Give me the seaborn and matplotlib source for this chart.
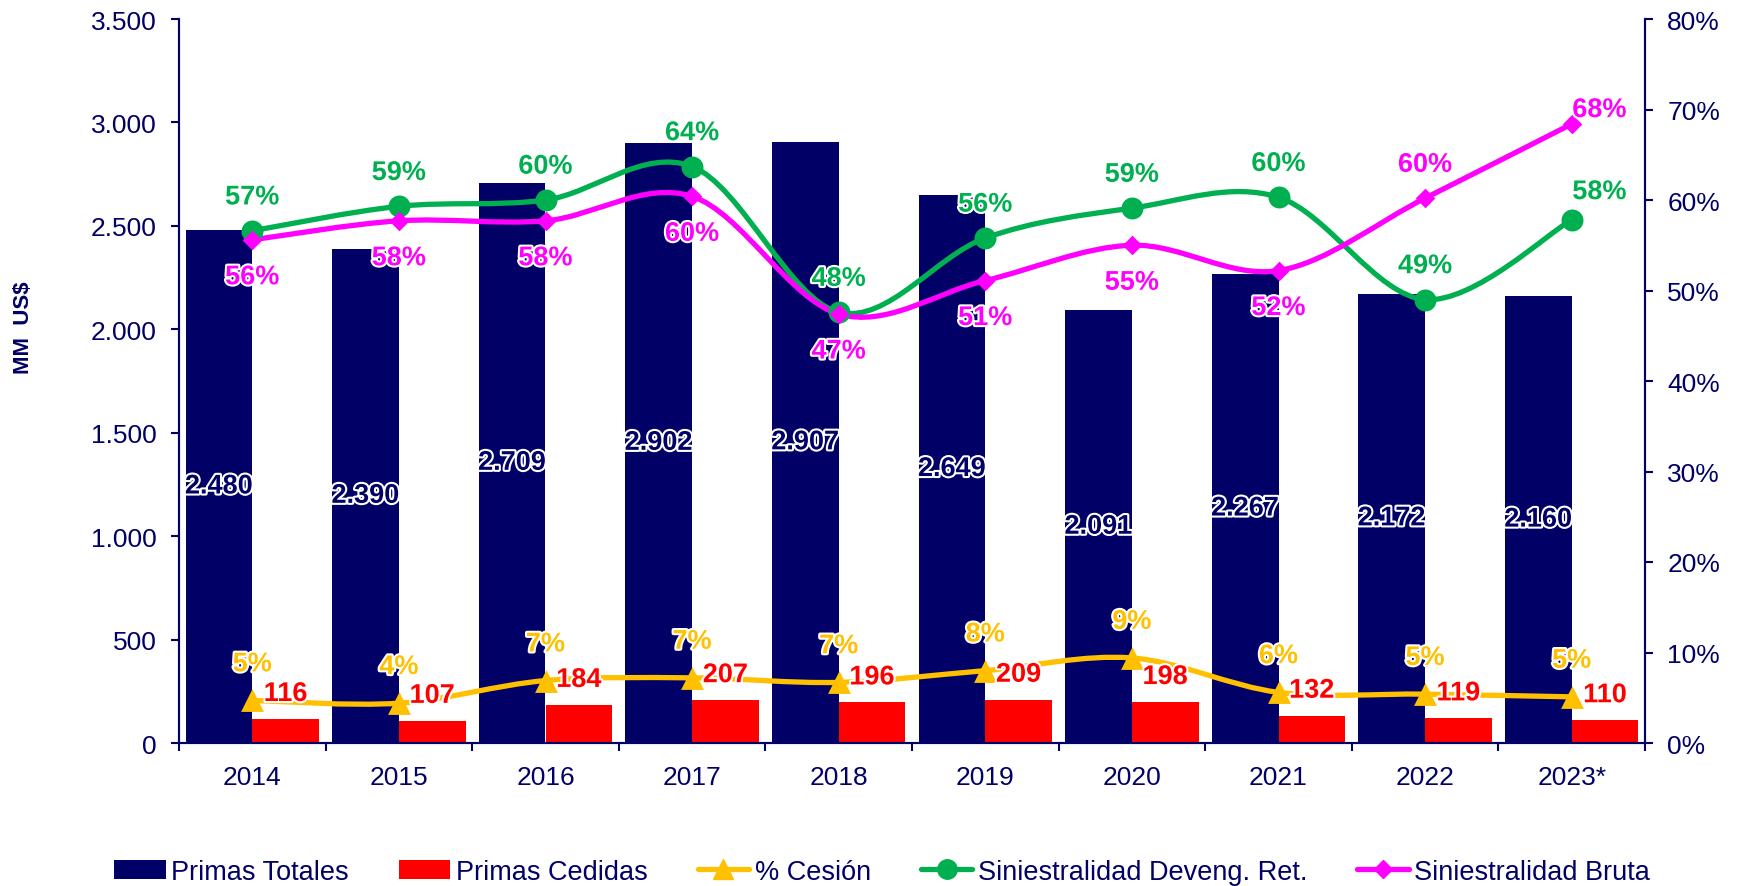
import matplotlib
matplotlib.use("Agg")
import matplotlib.pyplot as plt
import matplotlib.patheffects as pe
from matplotlib.path import Path
from matplotlib.patches import PathPatch, Patch
from matplotlib.lines import Line2D
from matplotlib.ticker import FuncFormatter, MultipleLocator
import numpy as np
import pandas as pd
import seaborn as sns

years = ["2014", "2015", "2016", "2017", "2018", "2019", "2020", "2021", "2022", "2023*"]
primas_totales = [2480, 2390, 2709, 2902, 2907, 2649, 2091, 2267, 2172, 2160]
primas_cedidas = [116, 107, 184, 207, 196, 209, 198, 132, 119, 110]
pct_cesion = [4.7, 4.4, 6.9, 7.2, 6.7, 8.0, 9.4, 5.6, 5.4, 5.1]
sin_deveng = [56.6, 59.3, 60.0, 63.7, 47.6, 55.8, 59.1, 60.3, 49.0, 57.8]
sin_bruta = [55.6, 57.7, 57.7, 60.4, 47.4, 51.1, 55.0, 52.2, 60.2, 68.4]

NAVY = "#000066"
RED = "#FF0000"
YELLOW = "#FFC000"
GREEN = "#00B050"
MAGENTA = "#FF00FF"


def smooth_path(xs, ys):
    """Excel-like smoothed line as cubic Bezier through the points."""
    xs = np.asarray(xs, float)
    ys = np.asarray(ys, float)
    n = len(xs)
    verts = [(xs[0], ys[0])]
    codes = [Path.MOVETO]
    for i in range(n - 1):
        a = max(i - 1, 0)
        b = min(i + 2, n - 1)
        c1 = (xs[i] + (xs[i + 1] - xs[a]) / 6, ys[i] + (ys[i + 1] - ys[a]) / 6)
        c2 = (xs[i + 1] - (xs[b] - xs[i]) / 6, ys[i + 1] - (ys[b] - ys[i]) / 6)
        verts += [c1, c2, (xs[i + 1], ys[i + 1])]
        codes += [Path.CURVE4] * 3
    return Path(verts, codes)


sns.set_theme(style="white")
plt.rcParams["font.family"] = ["Liberation Sans", "DejaVu Sans"]

df = pd.DataFrame({
    "year": years * 2,
    "serie": ["Primas Totales"] * len(years) + ["Primas Cedidas"] * len(years),
    "value": primas_totales + primas_cedidas,
})

fig = plt.figure(figsize=(17.4, 8.87), dpi=100)
ax = fig.add_axes([179 / 1740, 1 - 744 / 887, (1645 - 179) / 1740, (744 - 20) / 887])

sns.barplot(data=df, x="year", y="value", hue="serie", palette=[NAVY, RED],
            width=0.91, saturation=1, linewidth=0, legend=False, ax=ax)

ax.set_xlim(-0.5, len(years) - 0.5)
ax.set_ylim(0, 3500)
ax.yaxis.set_major_locator(MultipleLocator(500))
ax.yaxis.set_major_formatter(FuncFormatter(lambda v, p: f"{v:,.0f}".replace(",", ".")))
ax.set_xlabel("")
ax.set_ylabel("")

ax2 = ax.twinx()
ax2.set_ylim(0, 80)
ax2.yaxis.set_major_locator(MultipleLocator(10))
ax2.yaxis.set_major_formatter(FuncFormatter(lambda v, p: f"{v:.0f}%"))

xpos = np.arange(len(years))
lines = [
    (pct_cesion, YELLOW, "^", 270),
    (sin_deveng, GREEN, "o", 250),
    (sin_bruta, MAGENTA, "D", 100),
]
for vals, col, mk, size in lines:
    ax2.add_patch(PathPatch(smooth_path(xpos, vals), facecolor="none",
                            edgecolor=col, lw=3.8, capstyle="round", zorder=3))
    sns.scatterplot(x=xpos, y=vals, marker=mk, s=size, color=col,
                    linewidth=0, zorder=4, ax=ax2)

# axes styling
for a in (ax, ax2):
    a.spines["top"].set_visible(False)
    for s in ("left", "right", "bottom"):
        a.spines[s].set_color(NAVY)
        a.spines[s].set_linewidth(1.5)
    a.grid(False)

ax.tick_params(axis="y", direction="out", length=6, width=1.5, color=NAVY,
               labelcolor=NAVY, labelsize=19, pad=10, left=True)
ax2.tick_params(axis="y", direction="out", length=6, width=1.5, color=NAVY,
                labelcolor=NAVY, labelsize=19, pad=10, right=True)
ax.set_xticks(xpos)
ax.set_xticklabels(years)
ax.set_xticks(np.arange(-0.5, len(years)), minor=True)
ax.tick_params(axis="x", which="major", length=0, labelcolor=NAVY, labelsize=19, pad=16)
ax.tick_params(axis="x", which="minor", direction="out", length=6, width=1.5,
               color=NAVY, bottom=True)

halo = [pe.withStroke(linewidth=3, foreground="white")]

# bar labels
navy_bars = ax.containers[0]
red_bars = ax.containers[1]
for bar, v in zip(navy_bars, primas_totales):
    cx = bar.get_x() + bar.get_width() / 2
    ax2.annotate(f"{v:,}".replace(",", "."), xy=(cx, v / 2), xycoords=ax.transData,
                 ha="center", va="center", color=NAVY, fontsize=19.5,
                 fontweight="bold", path_effects=halo, zorder=6)
for bar, v in zip(red_bars, primas_cedidas):
    cx = bar.get_x() + bar.get_width() / 2
    ax2.annotate(f"{v}", xy=(cx, v), xycoords=ax.transData, xytext=(0, 18),
                 textcoords="offset points", ha="center", va="center", color=RED,
                 fontsize=19.5, fontweight="bold", path_effects=halo, zorder=6)

# line labels
green_off = [(0, 24)] * 9 + [(20, 20)]
bruta_off = [(0, -27)] * 8 + [(0, 24), (20, 10)]
for i in range(len(years)):
    ax2.annotate(f"{pct_cesion[i]:.0f}%", xy=(xpos[i], pct_cesion[i]), xytext=(0, 26),
                 textcoords="offset points", ha="center", va="center", color=YELLOW,
                 fontsize=19.5, fontweight="bold", path_effects=halo, zorder=6)
    ax2.annotate(f"{sin_deveng[i]:.0f}%", xy=(xpos[i], sin_deveng[i]), xytext=green_off[i],
                 textcoords="offset points", ha="center", va="center", color=GREEN,
                 fontsize=19.5, fontweight="bold", path_effects=halo, zorder=6)
    ax2.annotate(f"{sin_bruta[i]:.0f}%", xy=(xpos[i], sin_bruta[i]), xytext=bruta_off[i],
                 textcoords="offset points", ha="center", va="center", color=MAGENTA,
                 fontsize=19.5, fontweight="bold", path_effects=halo, zorder=6)

fig.text(24 / 1740, 0.631, "MM  US$", rotation=90, ha="center", va="center",
         color=NAVY, fontsize=16, fontweight="bold")

handles = [
    Patch(facecolor=NAVY, edgecolor="none"),
    Patch(facecolor=RED, edgecolor="none"),
    Line2D([], [], color=YELLOW, lw=3.8, marker="^", markersize=15),
    Line2D([], [], color=GREEN, lw=3.8, marker="o", markersize=14),
    Line2D([], [], color=MAGENTA, lw=3.8, marker="D", markersize=9),
]
labels = ["Primas Totales", "Primas Cedidas", "% Cesión",
          "Siniestralidad Deveng. Ret.", "Siniestralidad Bruta"]
leg = fig.legend(handles, labels, loc="center", bbox_to_anchor=(0.507, 0.016), ncol=5,
                 frameon=False, fontsize=19.5, handlelength=1.9, handletextpad=0.2,
                 columnspacing=1.85)
for t in leg.get_texts():
    t.set_color(NAVY)

fig.savefig("out.png", dpi=100)
